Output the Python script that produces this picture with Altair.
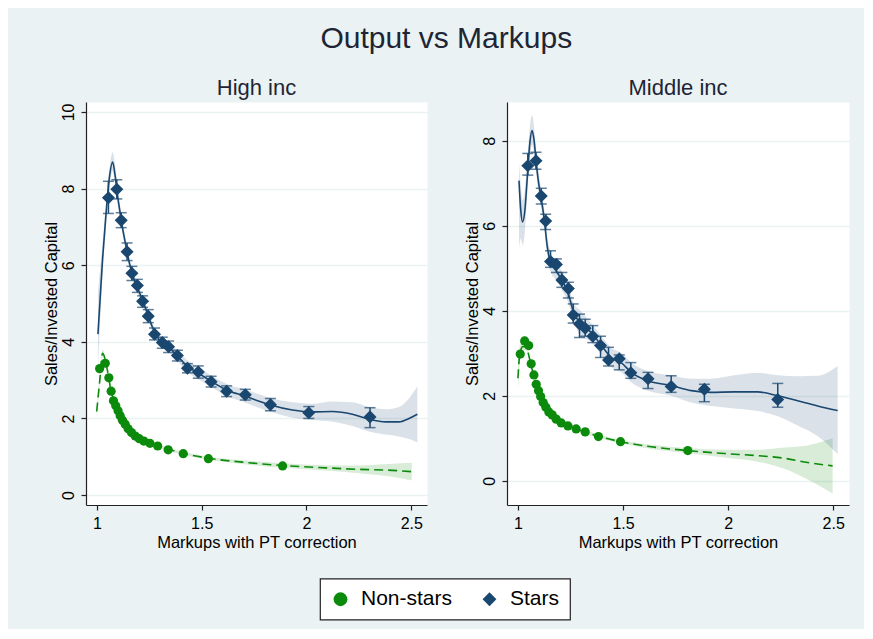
import altair as alt
import pandas as pd

NAVY = "#1a476f"
GREEN = "#0b8a0b"
BG = "#eaf2f3"
FONT = "Liberation Sans"

X_DOMAIN = [0.948, 2.575]
X_TICKS = [1, 1.5, 2, 2.5]

# ---------------- High inc ----------------
hi_star_x = [1.055, 1.095, 1.116, 1.144, 1.167, 1.193, 1.218, 1.245, 1.275, 1.312,
             1.342, 1.384, 1.432, 1.484, 1.545, 1.619, 1.708, 1.828, 2.011, 2.303]
hi_star_y = [7.76, 7.98, 7.17, 6.35, 5.79, 5.47, 5.06, 4.67, 4.20, 3.98,
             3.87, 3.64, 3.31, 3.21, 2.96, 2.71, 2.62, 2.36, 2.15, 2.04]
hi_star_lo = [7.35, 7.73, 6.98, 6.12, 5.60, 5.29, 4.90, 4.50, 4.05, 3.83,
              3.72, 3.50, 3.19, 3.05, 2.82, 2.57, 2.48, 2.20, 2.00, 1.76]
hi_star_hi = [8.19, 8.23, 7.37, 6.58, 5.97, 5.63, 5.20, 4.84, 4.36, 4.12,
              4.02, 3.78, 3.43, 3.37, 3.10, 2.85, 2.76, 2.52, 2.31, 2.28]

hi_non_x = [1.013, 1.040, 1.057, 1.068, 1.079, 1.090, 1.101, 1.111, 1.122, 1.135,
            1.149, 1.165, 1.183, 1.202, 1.224, 1.253, 1.290, 1.340, 1.412, 1.532, 1.886]
hi_non_y = [3.30, 3.44, 3.06, 2.71, 2.46, 2.33, 2.20, 2.07, 1.95, 1.85,
            1.73, 1.63, 1.54, 1.47, 1.41, 1.35, 1.28, 1.18, 1.08, 0.95, 0.76]

hi_sfit_x = [1.005, 1.027, 1.043, 1.059, 1.075, 1.087, 1.099, 1.110, 1.122, 1.138,
             1.154, 1.178, 1.202, 1.234, 1.265, 1.297, 1.345, 1.385, 1.432, 1.488,
             1.551, 1.623, 1.710, 1.774, 1.837, 1.933, 2.028, 2.123, 2.219, 2.298,
             2.378, 2.441, 2.489, 2.529]
hi_sfit_y = [4.20, 6.16, 7.30, 8.26, 8.69, 8.34, 7.80, 7.40, 6.98, 6.52,
             6.08, 5.62, 5.30, 4.85, 4.38, 4.05, 3.85, 3.63, 3.36, 3.17,
             2.95, 2.73, 2.58, 2.45, 2.34, 2.22, 2.17, 2.18, 2.11, 1.98,
             1.91, 1.91, 2.00, 2.11]
hi_sfit_lo = [3.30, 5.70, 7.00, 8.00, 8.45, 8.10, 7.60, 7.22, 6.82, 6.38,
              5.95, 5.50, 5.18, 4.73, 4.26, 3.92, 3.72, 3.49, 3.21, 3.01,
              2.80, 2.57, 2.41, 2.27, 2.16, 2.02, 1.96, 1.92, 1.80, 1.66,
              1.58, 1.53, 1.46, 1.37]
hi_sfit_hi = [5.30, 6.60, 7.60, 8.50, 8.95, 8.60, 8.00, 7.58, 7.14, 6.66,
              6.21, 5.74, 5.42, 4.97, 4.50, 4.18, 3.98, 3.77, 3.51, 3.33,
              3.10, 2.89, 2.75, 2.63, 2.52, 2.42, 2.38, 2.44, 2.42, 2.30,
              2.24, 2.30, 2.52, 2.84]

hi_nfit_x = [0.999, 1.013, 1.027, 1.043, 1.056, 1.068, 1.083, 1.106, 1.138, 1.178,
             1.226, 1.289, 1.345, 1.412, 1.532, 1.694, 1.887, 2.092, 2.251, 2.409, 2.502]
hi_nfit_y = [2.18, 2.95, 3.70, 3.46, 3.07, 2.71, 2.46, 2.15, 1.85, 1.59,
             1.41, 1.28, 1.19, 1.09, 0.96, 0.86, 0.77, 0.71, 0.67, 0.645, 0.61]
hi_nfit_lo = [2.03, 2.82, 3.60, 3.40, 3.02, 2.67, 2.42, 2.11, 1.81, 1.55,
              1.37, 1.24, 1.15, 1.05, 0.92, 0.81, 0.71, 0.64, 0.57, 0.475, 0.38]
hi_nfit_hi = [2.33, 3.08, 3.80, 3.52, 3.12, 2.75, 2.50, 2.19, 1.89, 1.63,
              1.45, 1.32, 1.23, 1.13, 1.00, 0.91, 0.83, 0.78, 0.77, 0.815, 0.84]

# ---------------- Middle inc ----------------
mid_star_x = [1.047, 1.086, 1.111, 1.132, 1.155, 1.183, 1.209, 1.240, 1.263, 1.293,
              1.320, 1.356, 1.393, 1.431, 1.482, 1.537, 1.619, 1.729, 1.887, 2.236]
mid_star_y = [7.41, 7.53, 6.70, 6.11, 5.16, 5.09, 4.72, 4.52, 3.90, 3.69,
              3.59, 3.40, 3.18, 2.84, 2.87, 2.54, 2.40, 2.22, 2.15, 1.91]
mid_star_lo = [7.19, 7.33, 6.51, 5.91, 5.02, 4.90, 4.55, 4.30, 3.71, 3.37,
               3.40, 3.25, 2.90, 2.70, 2.61, 2.41, 2.17, 2.08, 1.86, 1.73]
mid_star_hi = [7.70, 7.73, 6.88, 6.27, 5.41, 5.22, 4.90, 4.67, 4.16, 3.92,
               3.80, 3.65, 3.40, 3.14, 2.96, 2.78, 2.55, 2.47, 2.27, 2.29]

mid_non_x = [1.011, 1.032, 1.051, 1.063, 1.076, 1.087, 1.098, 1.108, 1.120, 1.133,
             1.147, 1.163, 1.182, 1.206, 1.238, 1.277, 1.320, 1.383, 1.488, 1.808]
mid_non_y = [2.98, 3.29, 3.18, 2.75, 2.49, 2.27, 2.12, 1.98, 1.84, 1.73,
             1.62, 1.55, 1.45, 1.36, 1.29, 1.22, 1.15, 1.04, 0.92, 0.71]

mid_sfit_x = [1.005, 1.013, 1.022, 1.032, 1.044, 1.057, 1.067, 1.076, 1.087, 1.098,
              1.111, 1.127, 1.139, 1.155, 1.182, 1.209, 1.238, 1.265, 1.301, 1.348,
              1.396, 1.444, 1.491, 1.539, 1.618, 1.729, 1.824, 1.919, 2.030, 2.141,
              2.236, 2.331, 2.426, 2.521]
mid_sfit_y = [7.06, 6.39, 6.09, 6.31, 7.10, 7.96, 8.24, 8.04, 7.49, 7.02,
              6.63, 6.08, 5.53, 5.14, 4.94, 4.71, 4.43, 3.96, 3.69, 3.49,
              3.19, 2.90, 2.78, 2.55, 2.35, 2.24, 2.12, 2.08, 2.09, 2.09,
              2.00, 1.88, 1.76, 1.65]
mid_sfit_lo = [5.45, 5.70, 5.55, 5.80, 6.70, 7.60, 7.90, 7.72, 7.22, 6.78,
               6.40, 5.85, 5.30, 4.92, 4.72, 4.49, 4.20, 3.74, 3.40, 3.27,
               2.97, 2.67, 2.55, 2.32, 2.12, 2.00, 1.84, 1.76, 1.70, 1.64,
               1.52, 1.30, 1.05, 0.63]
mid_sfit_hi = [7.50, 7.00, 6.60, 6.80, 7.50, 8.35, 8.60, 8.36, 7.76, 7.26,
               6.86, 6.31, 5.76, 5.40, 5.16, 4.93, 4.66, 4.18, 3.98, 3.71,
               3.41, 3.13, 3.01, 2.78, 2.58, 2.48, 2.40, 2.40, 2.48, 2.54,
               2.48, 2.46, 2.47, 2.70]

mid_nfit_x = [1.000, 1.010, 1.024, 1.040, 1.052, 1.063, 1.079, 1.103, 1.130, 1.166,
              1.206, 1.261, 1.325, 1.388, 1.488, 1.634, 1.808, 1.982, 2.141, 2.267,
              2.378, 2.497]
mid_nfit_y = [2.41, 3.02, 3.16, 3.14, 2.94, 2.71, 2.41, 2.09, 1.80, 1.57,
              1.41, 1.25, 1.14, 1.04, 0.92, 0.80, 0.71, 0.64, 0.59, 0.53,
              0.43, 0.35]
mid_nfit_lo = [2.11, 2.82, 3.06, 3.08, 2.89, 2.66, 2.36, 2.04, 1.75, 1.52,
               1.36, 1.20, 1.10, 1.00, 0.88, 0.75, 0.65, 0.55, 0.45, 0.28,
               0.03, -0.30]
mid_nfit_hi = [2.71, 3.22, 3.26, 3.20, 2.99, 2.76, 2.46, 2.14, 1.85, 1.62,
               1.46, 1.30, 1.18, 1.08, 0.96, 0.85, 0.77, 0.73, 0.73, 0.78,
               0.83, 1.00]


def panel(title, ydom, yvals, width,
          sx, sy, slo, shi, nx, ny,
          sfx, sfy, sflo, sfhi, nfx, nfy, nflo, nfhi):
    xs = alt.Scale(domain=X_DOMAIN, nice=False, zero=False)
    ys = alt.Scale(domain=ydom, nice=False, zero=False)
    xax = alt.Axis(values=X_TICKS, format="~g", title="Markups with PT correction", grid=False)
    yax = alt.Axis(values=yvals, format="d", title="Sales/Invested Capital", grid=True,
                   labelAngle=270, labelAlign="center", labelBaseline="bottom")

    def X():
        return alt.X("x:Q", scale=xs, axis=xax)

    def Y(f):
        return alt.Y(f, scale=ys, axis=yax)

    legend = alt.Legend(title=None, orient="none", legendX=234, legendY=476.5,
                        direction="horizontal", columns=2)
    cscale = alt.Scale(domain=["Non-stars", "Stars"], range=[GREEN, NAVY])
    shscale = alt.Scale(domain=["Non-stars", "Stars"], range=["circle", "diamond"])

    sband = pd.DataFrame({"x": sfx, "lo": sflo, "hi": sfhi, "y": sfy})
    nband = pd.DataFrame({"x": nfx, "lo": nflo, "hi": nfhi, "y": nfy})
    serr = pd.DataFrame({"x": sx, "lo": slo, "hi": shi})
    spts = pd.DataFrame({"x": sx, "y": sy, "grp": ["Stars"] * len(sx)})
    npts = pd.DataFrame({"x": nx, "y": ny, "grp": ["Non-stars"] * len(nx)})

    l_sband = alt.Chart(sband).mark_area(color=NAVY, opacity=0.16, interpolate="monotone").encode(
        x=X(), y=Y("lo:Q"), y2="hi:Q")
    l_nband = alt.Chart(nband).mark_area(color=GREEN, opacity=0.16, interpolate="monotone").encode(
        x=X(), y=Y("lo:Q"), y2="hi:Q")
    l_sline = alt.Chart(sband).mark_line(color=NAVY, strokeWidth=1.6, interpolate="monotone").encode(
        x=X(), y=Y("y:Q"))
    l_nline = alt.Chart(nband).mark_line(color=GREEN, strokeWidth=1.6, strokeDash=[9, 5],
                                          interpolate="monotone").encode(x=X(), y=Y("y:Q"))
    l_rule = alt.Chart(serr).mark_rule(color=NAVY, strokeWidth=1.5).encode(
        x=X(), y=Y("lo:Q"), y2="hi:Q")
    l_cap1 = alt.Chart(serr).mark_tick(color=NAVY, orient="horizontal", size=11, thickness=1.5).encode(
        x=X(), y=Y("lo:Q"))
    l_cap2 = alt.Chart(serr).mark_tick(color=NAVY, orient="horizontal", size=11, thickness=1.5).encode(
        x=X(), y=Y("hi:Q"))
    l_npts = alt.Chart(npts).mark_point(filled=True, size=85, opacity=1).encode(
        x=X(), y=Y("y:Q"),
        color=alt.Color("grp:N", scale=cscale, legend=legend),
        shape=alt.Shape("grp:N", scale=shscale, legend=legend))
    l_spts = alt.Chart(spts).mark_point(filled=True, size=170, opacity=1).encode(
        x=X(), y=Y("y:Q"),
        color=alt.Color("grp:N", scale=cscale, legend=legend),
        shape=alt.Shape("grp:N", scale=shscale, legend=legend))

    return alt.layer(l_nband, l_sband, l_nline, l_sline, l_rule, l_cap1, l_cap2, l_npts, l_spts).properties(
        width=width, height=403,
        title=alt.TitleParams(title, fontSize=22, offset=2.5, anchor="middle"))


left = panel("High inc", [-0.26, 10.26], [0, 2, 4, 6, 8, 10], 341,
             hi_star_x, hi_star_y, hi_star_lo, hi_star_hi, hi_non_x, hi_non_y,
             hi_sfit_x, hi_sfit_y, hi_sfit_lo, hi_sfit_hi,
             hi_nfit_x, hi_nfit_y, hi_nfit_lo, hi_nfit_hi)
right = panel("Middle inc", [-0.57, 8.91], [0, 2, 4, 6, 8], 342,
              mid_star_x, mid_star_y, mid_star_lo, mid_star_hi, mid_non_x, mid_non_y,
              mid_sfit_x, mid_sfit_y, mid_sfit_lo, mid_sfit_hi,
              mid_nfit_x, mid_nfit_y, mid_nfit_lo, mid_nfit_hi)

chart = alt.hconcat(left, right, spacing=35).resolve_scale(
    color="shared", shape="shared", x="independent", y="independent"
).resolve_legend(color="shared", shape="shared").properties(
    title=alt.TitleParams("Output vs Markups", fontSize=30, offset=22.5, anchor="middle"),
    padding={"left": 35, "top": 15, "right": 14, "bottom": 8},
    background=BG,
).configure_view(
    fill="white", stroke="transparent"
).configure_axis(
    domainColor="#222", tickColor="#222", labelColor="#000", titleColor="#000",
    labelFont=FONT, titleFont=FONT, labelFontSize=16, titleFontSize=16.5,
    titleFontWeight="normal", tickSize=5, gridColor=BG, gridWidth=1.3, domainWidth=1.2, tickWidth=1.2
).configure_axisX(
    labelPadding=5, titlePadding=3
).configure_axisY(
    labelPadding=5, titlePadding=0.5
).configure_title(
    font=FONT, fontWeight="normal", color="#1e2535"
).configure_legend(
    fillColor="white", strokeColor="#222", strokeWidth=1.2, padding=10,
    labelFont=FONT, labelFontSize=21, labelColor="#000", symbolSize=190,
    symbolStrokeWidth=0, labelOffset=10, columnPadding=26, symbolType="circle"
)

chart.save("out.html", embed_options={"renderer": "svg", "actions": False})
